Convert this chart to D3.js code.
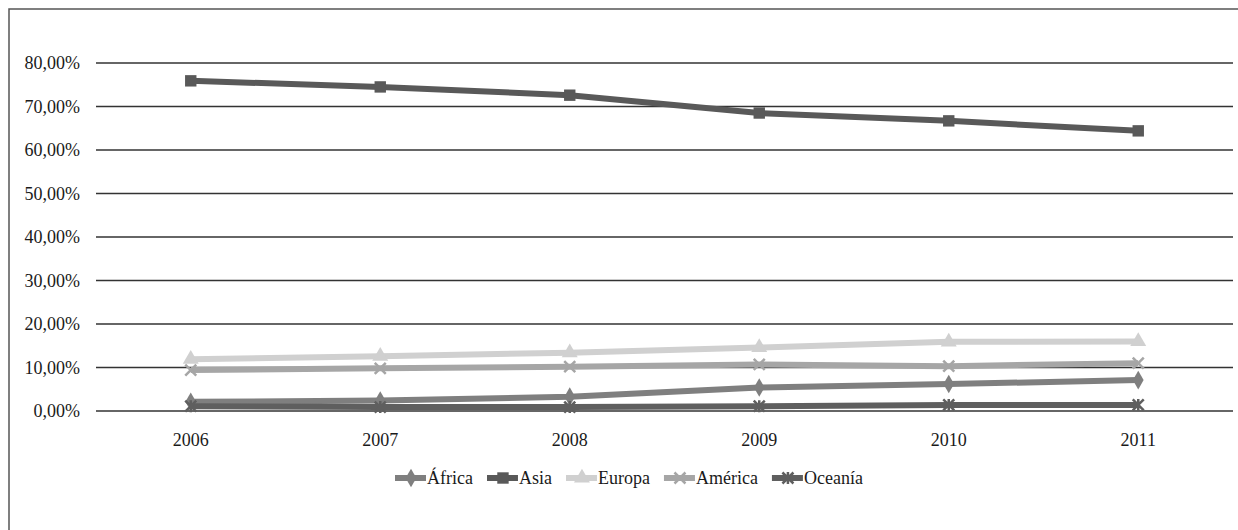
<!DOCTYPE html>
<html>
<head>
<meta charset="utf-8">
<script src="https://cdn.jsdelivr.net/npm/d3@7"></script>
<style>
  body { margin: 0; background: #fff; }
  svg { display: block; font-family: "Liberation Serif", "Times New Roman", serif; }
</style>
</head>
<body>
<div id="chart"></div>
<script>
const years = ["2006", "2007", "2008", "2009", "2010", "2011"];
const africa = [2.1, 2.4, 3.3, 5.4, 6.2, 7.1];
const asia = [75.9, 74.5, 72.6, 68.5, 66.7, 64.4];
const europa = [11.9, 12.6, 13.4, 14.6, 15.9, 16.0];
const america = [9.4, 9.8, 10.2, 10.7, 10.3, 11.0];
const oceania = [1.1, 0.9, 0.9, 1.1, 1.4, 1.4];
const yTicks = [0, 10, 20, 30, 40, 50, 60, 70, 80];

const series = [
  { name: "África", values: africa, color: "#7f7f7f", marker: "diamond" },
  { name: "Asia", values: asia, color: "#595959", marker: "square" },
  { name: "Europa", values: europa, color: "#d0d0d0", marker: "triangle" },
  { name: "América", values: america, color: "#a6a6a6", marker: "cross" },
  { name: "Oceanía", values: oceania, color: "#5f5f5f", marker: "star" }
];

const W = 1238, H = 530;
const svg = d3.select("#chart").append("svg").attr("width", W).attr("height", H);

// outer frame (runs off the right and bottom edges)
svg.append("rect")
  .attr("x", 9).attr("y", 9).attr("width", W).attr("height", H)
  .attr("fill", "none").attr("stroke", "#555").attr("stroke-width", 1.5);

const x = d3.scaleBand().domain(years).range([96, 1233]);
const y = d3.scaleLinear().domain([0, 80]).range([411, 63]);

// gridlines + y labels
const fmt = (v) => v.toFixed(2).replace(".", ",") + "%";
svg.append("g")
  .selectAll("line").data(yTicks).enter().append("line")
  .attr("x1", 96).attr("x2", 1233)
  .attr("y1", (d) => y(d)).attr("y2", (d) => y(d))
  .attr("stroke", "#333").attr("stroke-width", 1.3);

svg.append("g")
  .selectAll("text").data(yTicks).enter().append("text")
  .attr("x", 80).attr("y", (d) => y(d) + 6)
  .attr("text-anchor", "end").attr("font-size", 18).attr("fill", "#1a1a1a")
  .text(fmt);

// x labels
svg.append("g")
  .selectAll("text").data(years).enter().append("text")
  .attr("x", (d) => x(d) + x.bandwidth() / 2).attr("y", 446)
  .attr("text-anchor", "middle").attr("font-size", 18).attr("fill", "#1a1a1a")
  .text((d) => d);

const markerPath = (type) => {
  if (type === "diamond") return d3.symbol(d3.symbolDiamond, 100)();
  if (type === "square") return d3.symbol(d3.symbolSquare, 130)();
  if (type === "triangle") return d3.symbol(d3.symbolTriangle, 110)();
  if (type === "cross") return "M-5.5,-5.5L5.5,5.5M-5.5,5.5L5.5,-5.5";
  return "M-5.5,-5.5L5.5,5.5M-5.5,5.5L5.5,-5.5M0,-6L0,6";
};

const drawMarker = (g, s, cx, cy) => {
  const p = g.append("path")
    .attr("d", markerPath(s.marker))
    .attr("transform", `translate(${cx},${cy})`);
  if (s.marker === "cross" || s.marker === "star") {
    p.attr("fill", "none").attr("stroke", s.color).attr("stroke-width", 2.5);
  } else {
    p.attr("fill", s.color);
  }
};

const line = d3.line()
  .x((d, i) => x(years[i]) + x.bandwidth() / 2)
  .y((d) => y(d));

series.forEach((s) => {
  const g = svg.append("g");
  g.append("path")
    .attr("d", line(s.values))
    .attr("fill", "none")
    .attr("stroke", s.color)
    .attr("stroke-width", 6)
    .attr("stroke-linejoin", "round");
  s.values.forEach((v, i) => {
    drawMarker(g, s, x(years[i]) + x.bandwidth() / 2, y(v));
  });
});

// legend
let lx = 395;
const ly = 478;
series.forEach((s) => {
  const g = svg.append("g");
  g.append("line")
    .attr("x1", lx).attr("x2", lx + 31).attr("y1", ly).attr("y2", ly)
    .attr("stroke", s.color).attr("stroke-width", 6);
  drawMarker(g, s, lx + 16, ly);
  const t = g.append("text")
    .attr("x", lx + 32).attr("y", ly + 6)
    .attr("font-size", 18).attr("fill", "#1a1a1a")
    .text(s.name);
  lx += 32 + t.node().getComputedTextLength() + 14;
});
</script>
</body>
</html>
